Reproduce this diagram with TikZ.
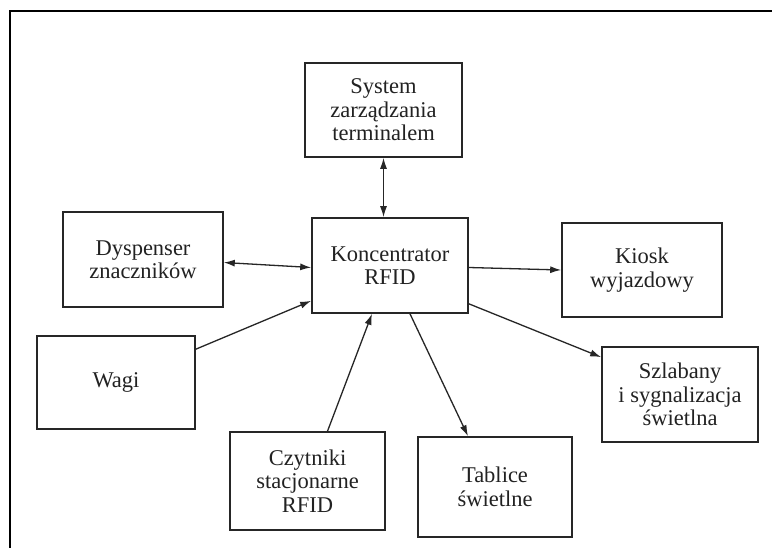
\documentclass[tikz,border=0pt]{standalone}
\usepackage{fontspec}
\setmainfont{Liberation Serif}
\usetikzlibrary{arrows.meta}
\definecolor{ink}{HTML}{262626}
\definecolor{txt}{HTML}{222222}
\begin{document}
\begin{tikzpicture}[x=1pt,y=-1pt,
  blok/.style={draw=ink, line width=1.6pt, rectangle, align=center,
    text=txt, font=\fontsize{22.5}{23.5}\selectfont, inner sep=0pt},
  tip/.style={Latex[length=11pt,width=7pt]},
  link/.style={draw=ink, line width=1.3pt, -{Latex[length=11pt,width=7pt]}},
  dlink/.style={draw=ink, line width=1.3pt, {Latex[length=11pt,width=7pt]}-{Latex[length=11pt,width=7pt]}}]
  \useasboundingbox (0,0) rectangle (772,548);
  \fill[white] (0,0) rectangle (772,548);
  % outer frame (open at right and bottom)
  \draw[line width=2pt, black] (10,560) -- (10,11) -- (790,11);

  % blocks
  \node[blok, minimum width=157pt, minimum height=94pt] (sys) at (383.5,110)
    {System\\zarządzania\\terminalem};
  \node[blok, minimum width=160pt, minimum height=95pt] (dys) at (143,259.5)
    {Dyspenser\\znaczników};
  \node[blok, minimum width=156pt, minimum height=95pt] (kon) at (390,265.5)
    {Koncentrator\\RFID};
  \node[blok, minimum width=160pt, minimum height=94pt] (kio) at (642,270)
    {Kiosk\\wyjazdowy};
  \node[blok, minimum width=158pt, minimum height=93pt] (wag) at (116,382.5)
    {Wagi};
  \node[blok, minimum width=156pt, minimum height=95pt] (szl) at (680,394.5)
    {Szlabany\\i sygnalizacja\\świetlna};
  \node[blok, minimum width=155pt, minimum height=98pt] (czy) at (307.5,481)
    {Czytniki\\stacjonarne\\RFID};
  \node[blok, minimum width=154pt, minimum height=100pt] (tab) at (495,487)
    {Tablice\\świetlne};

  % connections
  \draw[dlink] (sys.south) -- (sys.south |- kon.north);
  \draw[dlink] ([yshift=-3pt]dys.east) -- ([yshift=-2pt]kon.west);
  \draw[link] ([yshift=-14pt]wag.north east) -- ([yshift=13pt]kon.south west);
  \draw[link] ([xshift=20pt]czy.north) -- ([xshift=-18pt]kon.south);
  \draw[link] ([yshift=-2pt]kon.east) -- (kio.west);
  \draw[link] ([yshift=10pt]kon.south east) -- ([yshift=-11pt]szl.north west);
  \draw[link] ([xshift=20pt]kon.south) -- ([xshift=-27pt]tab.north);
\end{tikzpicture}
\end{document}
